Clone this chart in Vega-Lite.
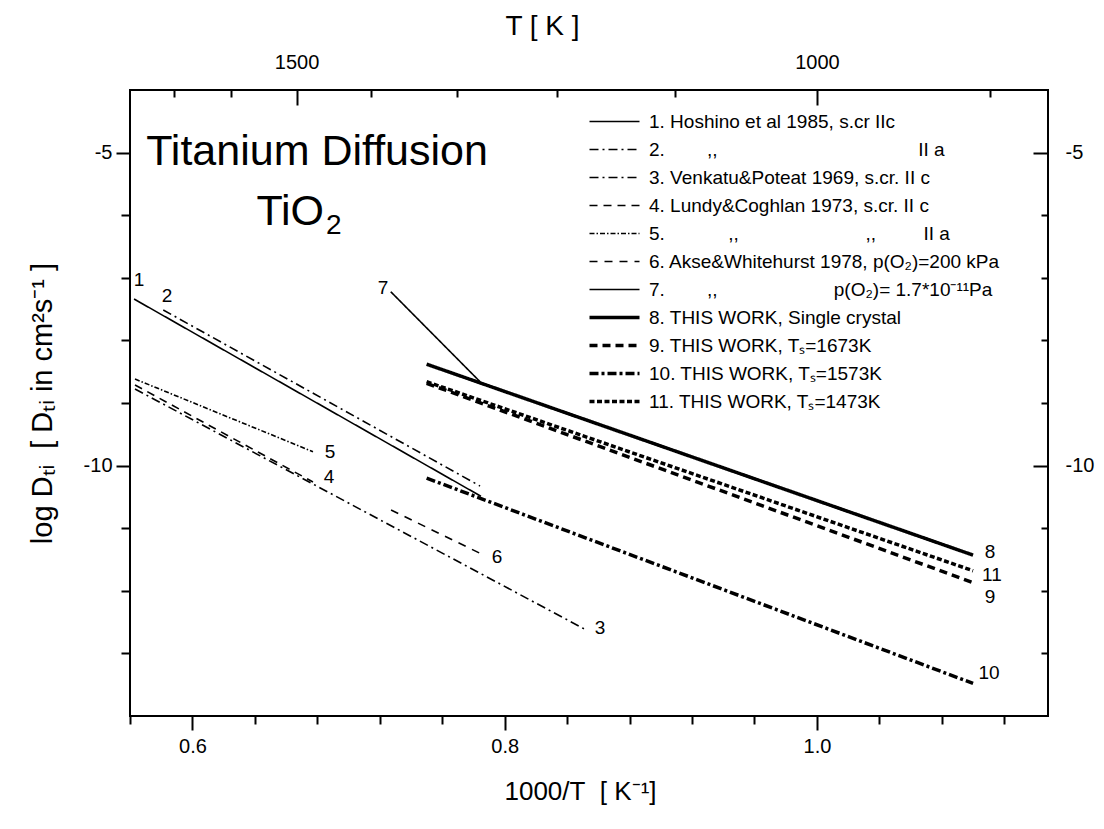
{
  "$schema": "https://vega.github.io/schema/vega-lite/v6.json",
  "width": 918,
  "height": 626,
  "autosize": {"type": "none"},
  "padding": {"left": 130, "top": 90, "right": 56, "bottom": 113},
  "background": "white",
  "config": {
    "font": "Liberation Sans",
    "view": {"stroke": "black", "strokeWidth": 2},
    "axis": {"domain": false, "grid": false, "tickColor": "black", "tickWidth": 2, "labelColor": "black", "titleColor": "black", "labelFont": "Liberation Sans", "titleFont": "Liberation Sans", "titleFontWeight": "normal", "labelFontSize": 20, "titleFontSize": 26},
    "text": {"font": "Liberation Sans", "color": "black"}
  },
  "datasets": {
    "lines": [
      {"n": 1, "s": "1. Hoshino et al 1985, s.cr IIc", "x": 0.5626, "y": -7.339},
      {"n": 1, "s": "1. Hoshino et al 1985, s.cr IIc", "x": 0.7848, "y": -10.49},
      {"n": 2, "s": "2.\u00a0\u00a0\u00a0\u00a0\u00a0\u00a0\u00a0\u00a0,,\u00a0\u00a0\u00a0\u00a0\u00a0\u00a0\u00a0\u00a0\u00a0\u00a0\u00a0\u00a0\u00a0\u00a0\u00a0\u00a0\u00a0\u00a0\u00a0\u00a0\u00a0\u00a0\u00a0\u00a0\u00a0\u00a0\u00a0\u00a0\u00a0\u00a0\u00a0\u00a0\u00a0\u00a0\u00a0\u00a0\u00a0\u00a0II a", "x": 0.5813, "y": -7.514},
      {"n": 2, "s": "2.\u00a0\u00a0\u00a0\u00a0\u00a0\u00a0\u00a0\u00a0,,\u00a0\u00a0\u00a0\u00a0\u00a0\u00a0\u00a0\u00a0\u00a0\u00a0\u00a0\u00a0\u00a0\u00a0\u00a0\u00a0\u00a0\u00a0\u00a0\u00a0\u00a0\u00a0\u00a0\u00a0\u00a0\u00a0\u00a0\u00a0\u00a0\u00a0\u00a0\u00a0\u00a0\u00a0\u00a0\u00a0\u00a0\u00a0II a", "x": 0.7842, "y": -10.326},
      {"n": 3, "s": "3. Venkatu&Poteat 1969, s.cr. II c", "x": 0.5632, "y": -8.776},
      {"n": 3, "s": "3. Venkatu&Poteat 1969, s.cr. II c", "x": 0.8514, "y": -12.615},
      {"n": 4, "s": "4. Lundy&Coghlan 1973, s.cr. II c", "x": 0.5632, "y": -8.712},
      {"n": 4, "s": "4. Lundy&Coghlan 1973, s.cr. II c", "x": 0.6772, "y": -10.262},
      {"n": 5, "s": "5.\u00a0\u00a0\u00a0\u00a0\u00a0\u00a0\u00a0\u00a0\u00a0\u00a0\u00a0\u00a0,,\u00a0\u00a0\u00a0\u00a0\u00a0\u00a0\u00a0\u00a0\u00a0\u00a0\u00a0\u00a0\u00a0\u00a0\u00a0\u00a0\u00a0\u00a0\u00a0\u00a0\u00a0\u00a0\u00a0\u00a0,,\u00a0\u00a0\u00a0\u00a0\u00a0\u00a0\u00a0\u00a0\u00a0II a", "x": 0.5632, "y": -8.617},
      {"n": 5, "s": "5.\u00a0\u00a0\u00a0\u00a0\u00a0\u00a0\u00a0\u00a0\u00a0\u00a0\u00a0\u00a0,,\u00a0\u00a0\u00a0\u00a0\u00a0\u00a0\u00a0\u00a0\u00a0\u00a0\u00a0\u00a0\u00a0\u00a0\u00a0\u00a0\u00a0\u00a0\u00a0\u00a0\u00a0\u00a0\u00a0\u00a0,,\u00a0\u00a0\u00a0\u00a0\u00a0\u00a0\u00a0\u00a0\u00a0II a", "x": 0.6772, "y": -9.778},
      {"n": 6, "s": "6. Akse&Whitehurst 1978, p(O\u2082)=200 kPa", "x": 0.7272, "y": -10.709},
      {"n": 6, "s": "6. Akse&Whitehurst 1978, p(O\u2082)=200 kPa", "x": 0.7842, "y": -11.401},
      {"n": 7, "s": "7.\u00a0\u00a0\u00a0\u00a0\u00a0\u00a0\u00a0\u00a0,,\u00a0\u00a0\u00a0\u00a0\u00a0\u00a0\u00a0\u00a0\u00a0\u00a0\u00a0\u00a0\u00a0\u00a0\u00a0\u00a0\u00a0\u00a0\u00a0\u00a0\u00a0\u00a0p(O\u2082)= 1.7*10\u207B\u00B9\u00B9Pa", "x": 0.727, "y": -7.222},
      {"n": 7, "s": "7.\u00a0\u00a0\u00a0\u00a0\u00a0\u00a0\u00a0\u00a0,,\u00a0\u00a0\u00a0\u00a0\u00a0\u00a0\u00a0\u00a0\u00a0\u00a0\u00a0\u00a0\u00a0\u00a0\u00a0\u00a0\u00a0\u00a0\u00a0\u00a0\u00a0\u00a0p(O\u2082)= 1.7*10\u207B\u00B9\u00B9Pa", "x": 0.7842, "y": -8.66},
      {"n": 8, "s": "8. THIS WORK, Single crystal", "x": 0.75, "y": -8.38},
      {"n": 8, "s": "8. THIS WORK, Single crystal", "x": 1.1, "y": -11.43},
      {"n": 9, "s": "9. THIS WORK, T\u209B=1673K", "x": 0.75, "y": -8.685},
      {"n": 9, "s": "9. THIS WORK, T\u209B=1673K", "x": 1.1, "y": -11.87},
      {"n": 10, "s": "10. THIS WORK, T\u209B=1573K", "x": 0.75, "y": -10.2},
      {"n": 10, "s": "10. THIS WORK, T\u209B=1573K", "x": 1.1, "y": -13.48},
      {"n": 11, "s": "11. THIS WORK, T\u209B=1473K", "x": 0.75, "y": -8.66},
      {"n": 11, "s": "11. THIS WORK, T\u209B=1473K", "x": 1.1, "y": -11.68}
    ],
    "notes": [
      {"kind": "num", "t": "1", "x": 0.5658, "y": -7.035},
      {"kind": "num", "t": "2", "x": 0.5837, "y": -7.291},
      {"kind": "num", "t": "3", "x": 0.861, "y": -12.594},
      {"kind": "num", "t": "4", "x": 0.6875, "y": -10.182},
      {"kind": "num", "t": "5", "x": 0.6881, "y": -9.783},
      {"kind": "num", "t": "6", "x": 0.7951, "y": -11.46},
      {"kind": "num", "t": "7", "x": 0.7221, "y": -7.163},
      {"kind": "num", "t": "8", "x": 1.1109, "y": -11.38},
      {"kind": "num", "t": "11", "x": 1.1121, "y": -11.748},
      {"kind": "num", "t": "9", "x": 1.1109, "y": -12.099},
      {"kind": "num", "t": "10", "x": 1.1102, "y": -13.313},
      {"kind": "title", "t": "Titanium Diffusion", "x": 0.6798, "y": -4.99},
      {"kind": "tio", "t": "TiO", "x": 0.6843, "y": -5.949},
      {"kind": "sub", "t": "2", "x": 0.6855, "y": -6.173}
    ]
  },
  "resolve": {"axis": {"x": "independent", "y": "independent"}},
  "layer": [
    {
      "data": {"name": "lines"},
      "mark": {"type": "line", "stroke": "black", "strokeCap": "butt"},
      "encoding": {
        "x": {"field": "x", "type": "quantitative", "scale": {"domain": [0.56, 1.148], "nice": false, "zero": false},
              "axis": {"orient": "bottom", "values": [0.6, 0.8, 1.0], "format": ".1f", "tickSize": 14, "labelPadding": 6, "title": "1000/T\u00a0\u00a0[ K\u207B\u00B9]", "titlePadding": 22, "titleX": 450}},
        "y": {"field": "y", "type": "quantitative", "scale": {"domain": [-14, -4], "nice": false, "zero": false},
              "axis": {"orient": "left", "values": [-5, -10], "labelExpr": "'' + datum.value", "tickSize": 14, "labelPadding": 4, "title": "log D\u209C\u1D62\u00a0\u00a0[ D\u209C\u1D62 in cm\u00B2s\u207B\u00B9 ]", "titleFontSize": 29, "titlePadding": 26}},
        "strokeDash": {"field": "s", "type": "nominal",
          "scale": {
            "domain": [
              "1. Hoshino et al 1985, s.cr IIc",
              "2.\u00a0\u00a0\u00a0\u00a0\u00a0\u00a0\u00a0\u00a0,,\u00a0\u00a0\u00a0\u00a0\u00a0\u00a0\u00a0\u00a0\u00a0\u00a0\u00a0\u00a0\u00a0\u00a0\u00a0\u00a0\u00a0\u00a0\u00a0\u00a0\u00a0\u00a0\u00a0\u00a0\u00a0\u00a0\u00a0\u00a0\u00a0\u00a0\u00a0\u00a0\u00a0\u00a0\u00a0\u00a0\u00a0\u00a0II a",
              "3. Venkatu&Poteat 1969, s.cr. II c",
              "4. Lundy&Coghlan 1973, s.cr. II c",
              "5.\u00a0\u00a0\u00a0\u00a0\u00a0\u00a0\u00a0\u00a0\u00a0\u00a0\u00a0\u00a0,,\u00a0\u00a0\u00a0\u00a0\u00a0\u00a0\u00a0\u00a0\u00a0\u00a0\u00a0\u00a0\u00a0\u00a0\u00a0\u00a0\u00a0\u00a0\u00a0\u00a0\u00a0\u00a0\u00a0\u00a0,,\u00a0\u00a0\u00a0\u00a0\u00a0\u00a0\u00a0\u00a0\u00a0II a",
              "6. Akse&Whitehurst 1978, p(O\u2082)=200 kPa",
              "7.\u00a0\u00a0\u00a0\u00a0\u00a0\u00a0\u00a0\u00a0,,\u00a0\u00a0\u00a0\u00a0\u00a0\u00a0\u00a0\u00a0\u00a0\u00a0\u00a0\u00a0\u00a0\u00a0\u00a0\u00a0\u00a0\u00a0\u00a0\u00a0\u00a0\u00a0p(O\u2082)= 1.7*10\u207B\u00B9\u00B9Pa",
              "8. THIS WORK, Single crystal",
              "9. THIS WORK, T\u209B=1673K",
              "10. THIS WORK, T\u209B=1573K",
              "11. THIS WORK, T\u209B=1473K"
            ],
            "range": [[1, 0], [9, 4, 2, 4], [9, 4, 2, 4], [8, 6], [5, 2, 1.5, 2], [8, 7], [1, 0], [1, 0], [8, 5], [9, 3, 3, 3], [5, 2.5]]
          },
          "legend": {"orient": "none", "legendX": 475, "legendY": 22, "title": null, "symbolType": "M-2.5,0H2.5", "symbolSize": 400, "symbolStrokeColor": "black", "symbolFillColor": "transparent", "rowPadding": 8, "labelFontSize": 19, "labelFont": "Liberation Sans", "labelColor": "black", "labelLimit": 700, "labelOffset": 25, "padding": 0,
                     "encode": {"symbols": {"update": {"strokeWidth": {"signal": "datum.index >= 7 ? 3.5 : 1.5"}}}}}
        },
        "strokeWidth": {"condition": {"test": "datum.n >= 8", "value": 3.5}, "value": 1.6}
      }
    },
    {
      "data": {"name": "notes"},
      "transform": [{"filter": "datum.kind === 'num'"}],
      "mark": {"type": "text", "fontSize": 19, "align": "center", "baseline": "middle"},
      "encoding": {
        "x": {"field": "x", "type": "quantitative", "scale": {"domain": [0.56, 1.148], "nice": false, "zero": false},
              "axis": {"orient": "bottom", "values": [0.56, 0.64, 0.68, 0.72, 0.76, 0.84, 0.88, 0.92, 0.96, 1.04, 1.08, 1.12], "tickSize": 8, "labels": false, "title": null}},
        "y": {"field": "y", "type": "quantitative", "scale": {"domain": [-14, -4], "nice": false, "zero": false},
              "axis": {"orient": "left", "values": [-13, -12, -11, -9, -8, -7, -6], "tickSize": 9, "labels": false, "title": null}},
        "text": {"field": "t"}
      }
    },
    {
      "data": {"name": "notes"},
      "transform": [{"filter": "datum.kind === 'title'"}],
      "mark": {"type": "text", "fontSize": 43, "align": "center", "baseline": "middle"},
      "encoding": {
        "x": {"field": "x", "type": "quantitative", "scale": {"domain": [0.56, 1.148], "nice": false, "zero": false},
              "axis": {"orient": "top", "values": [0.666667, 1.0], "labelExpr": "datum.value < 0.8 ? '1500' : '1000'", "tickSize": -15, "labelPadding": 33, "title": "T [ K ]", "titleFontSize": 28, "titlePadding": 12, "titleX": 412}},
        "y": {"field": "y", "type": "quantitative", "scale": {"domain": [-14, -4], "nice": false, "zero": false},
              "axis": {"orient": "right", "values": [-5, -10], "labelExpr": "'' + datum.value", "tickSize": -15, "labelPadding": 32, "title": null}},
        "text": {"field": "t"}
      }
    },
    {
      "data": {"name": "notes"},
      "transform": [{"filter": "datum.kind === 'tio'"}],
      "mark": {"type": "text", "fontSize": 43, "align": "right", "baseline": "middle"},
      "encoding": {
        "x": {"field": "x", "type": "quantitative", "scale": {"domain": [0.56, 1.148], "nice": false, "zero": false},
              "axis": {"orient": "top", "values": [0.588235, 0.625, 0.714286, 0.769231, 0.833333, 0.909091, 1.111111], "tickSize": -7, "labels": false, "title": null}},
        "y": {"field": "y", "type": "quantitative", "scale": {"domain": [-14, -4], "nice": false, "zero": false},
              "axis": {"orient": "right", "values": [-13, -12, -11, -9, -8, -7, -6], "tickSize": -7, "labels": false, "title": null}},
        "text": {"field": "t"}
      }
    },
    {
      "data": {"name": "notes"},
      "transform": [{"filter": "datum.kind === 'sub'"}],
      "mark": {"type": "text", "fontSize": 28, "align": "left", "baseline": "middle"},
      "encoding": {
        "x": {"field": "x", "type": "quantitative", "scale": {"domain": [0.56, 1.148], "nice": false, "zero": false}, "axis": null},
        "y": {"field": "y", "type": "quantitative", "scale": {"domain": [-14, -4], "nice": false, "zero": false}, "axis": null},
        "text": {"field": "t"}
      }
    }
  ]
}
